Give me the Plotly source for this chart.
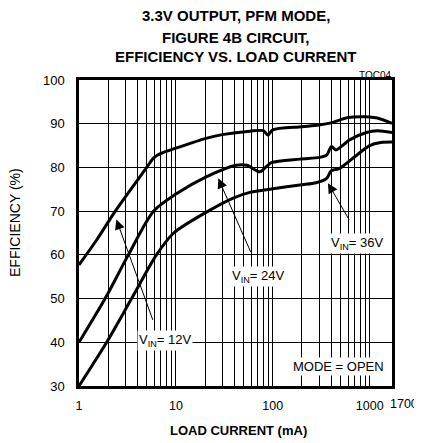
'recreate the efficiency vs load current chart'
import math
import plotly.graph_objects as go

#load current (mA) and efficiency (%)
load_12v = [1, 1.52, 2.37, 5, 5.9, 7, 10, 20, 30, 58, 80, 89, 100, 200, 300, 400, 600, 900, 1200, 1700]
eff_12v = [57.7, 63.4, 70, 80, 82.2, 83.2, 84.4, 86.6, 87.5, 88.3, 88.4, 87.4, 88.6, 89.3, 89.7, 90.2, 91.4, 91.6, 91.3, 90.1]

load_24v = [1, 1.86, 3.23, 5.88, 10, 20.8, 42, 54, 73.5, 86, 97, 190, 305, 360, 403, 448, 620, 925, 1200, 1700]
eff_24v = [40, 50, 60, 70, 73.9, 77.9, 80.5, 80.5, 79.0, 80.2, 81.1, 81.9, 82.3, 82.8, 84.8, 84.0, 86.3, 88.0, 88.4, 88.0]

load_36v = [1, 1.93, 3.49, 6.3, 9.5, 20, 39, 58, 86, 190, 280, 360, 400, 490, 735, 1000, 1300, 1700]
eff_36v = [30, 40, 50, 60, 65, 69.6, 73, 74.3, 74.9, 76, 76.5, 77.5, 79.2, 79.8, 82.8, 85.0, 85.7, 85.8]

#axis ticks
x_grid = [1, 2, 3, 4, 5, 6, 7, 8, 9,
          10, 20, 30, 40, 50, 60, 70, 80, 90,
          100, 200, 300, 400, 500, 600, 700, 800, 900, 1000]
x_labels = {1: '1', 10: '10', 100: '100', 1000: '1000'}
y_ticks = [30, 40, 50, 60, 70, 80, 90, 100]

title_lines = ['3.3V OUTPUT, PFM MODE,', 'FIGURE 4B CIRCUIT,', 'EFFICIENCY VS. LOAD CURRENT']

FONT = 'Liberation Sans, Arial, sans-serif'

#generate figure
fig = go.Figure()
for xs, ys, name in [(load_12v, eff_12v, '12V'), (load_24v, eff_24v, '24V'), (load_36v, eff_36v, '36V')]:
    fig.add_trace(go.Scatter(
        x=xs, y=ys, mode='lines', name=name,
        line=dict(color='black', width=3, shape='spline', smoothing=0.8),
        showlegend=False
    ))

annotations = []
#title, one annotation per line
for i, line in enumerate(title_lines):
    annotations.append(dict(
        text='<b>' + line + '</b>', xref='paper', yref='paper',
        x=0.5, y=[1.2105, 1.1405, 1.0765][i], xanchor='center', yanchor='middle',
        showarrow=False, font=dict(size=15, family=FONT, color='black')
    ))
annotations.append(dict(
    text='TOC04', xref='paper', yref='paper', x=0.947, y=1.014,
    xanchor='center', yanchor='middle', showarrow=False,
    font=dict(size=10, family=FONT, color='black')
))
#axis titles
annotations.append(dict(
    text='EFFICIENCY (%)', xref='paper', yref='paper', x=-0.2045, y=0.536,
    textangle=-90, xanchor='center', yanchor='middle', showarrow=False,
    font=dict(size=14, family=FONT, color='black')
))
annotations.append(dict(
    text='<b>LOAD CURRENT (mA)</b>', xref='paper', yref='paper', x=0.508, y=-0.147,
    xanchor='center', yanchor='middle', showarrow=False,
    font=dict(size=13, family=FONT, color='black')
))
#end label of the x axis sits right of the frame
annotations.append(dict(
    text='1700', xref='paper', yref='paper', x=1.086, y=-0.058,
    xanchor='right', yanchor='middle', showarrow=False, borderpad=0,
    font=dict(size=12.5, family=FONT, color='black')
))

#arrows (tip on curve, tail offset in px); log axis needs log10 x
for tx, ty, ax, ay in [(2.43, 68.1, 37, 102), (27.4, 77.5, 33, 75), (371, 76.4, 22, 38)]:
    annotations.append(dict(
        x=math.log10(tx), y=ty, xref='x', yref='y', ax=ax, ay=ay, text='',
        showarrow=True, arrowhead=2, arrowsize=2, arrowwidth=1, arrowcolor='black'
    ))

#curve labels with white box
for lx, ly, txt in [(7.76, 40.3, 'V<sub>IN</sub>= 12V'), (70.3, 55.1, 'V<sub>IN</sub>= 24V'),
                    (733, 62.7, 'V<sub>IN</sub>= 36V'), (473, 34.4, 'MODE = OPEN')]:
    annotations.append(dict(
        x=math.log10(lx), y=ly, xref='x', yref='y', text=txt, showarrow=False,
        bgcolor='white', borderpad=1,
        font=dict(size=13, family=FONT, color='black')
    ))

#update layout (page adds 8px body margin, so size is trimmed)
fig.update_layout(
    width=414, height=435,
    margin=dict(l=71, r=30, t=72, b=57),
    paper_bgcolor='white', plot_bgcolor='white',
    font=dict(family=FONT, size=13, color='black'),
    annotations=annotations
)

#update axes
fig.update_xaxes(
    type='log', range=[0, 3.2304],
    tickvals=x_grid, ticktext=[x_labels.get(v, '') for v in x_grid],
    showgrid=True, gridcolor='black', gridwidth=1,
    showline=True, linecolor='black', linewidth=2.5, mirror=True,
    ticks='', tickfont_size=12.5, zeroline=False, ticklabelstandoff=6
)
fig.update_yaxes(
    range=[30, 100], tickvals=y_ticks,
    showgrid=True, gridcolor='black', gridwidth=1,
    showline=True, linecolor='black', linewidth=2.5, mirror=True,
    ticks='', tickfont_size=13, zeroline=False, ticklabelstandoff=9
)

fig.write_html('out.html')
